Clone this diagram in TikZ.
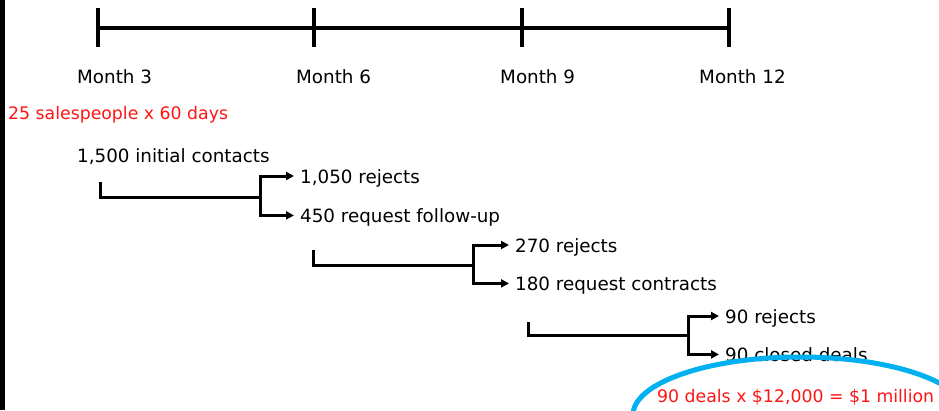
\documentclass[tikz,border=0pt]{standalone}
\usepackage{fontspec}
\setmainfont{DejaVu Sans}
\usetikzlibrary{shapes.geometric,positioning,arrows.meta}
\definecolor{ringblue}{RGB}{0,176,240}
\definecolor{notered}{RGB}{255,20,20}

\begin{document}
\begin{tikzpicture}
            [
            x=1pt, y=-1pt,
            >={Triangle[length=8pt,width=8pt]},
            every node/.style={font=\fontsize{18.3}{22}\selectfont},
            month/.style={anchor=base west, inner sep=0pt},
            item/.style={anchor=base west, inner xsep=6pt, inner ysep=0pt,
                text height=14pt, text depth=0pt},
            note/.style={item, text=notered, font=\fontsize{17.3}{21}\selectfont},
            bar/.style={line width=3.2pt},
            branch/.style={line width=3pt}
            ]

            \useasboundingbox (0,0) rectangle (939,410);
            \clip (0,0) rectangle (939,410);
            \fill (0,0) rectangle (4.5,410);

            % Timeline
            \foreach \m/\x in {3/98, 6/314, 9/522, 12/729}{
                \coordinate (t\m) at (\x,28);
                \draw [bar] (\x,8) -- (\x,47);
            }
            \draw [bar] (t3) -- (t12);

            \node (m3) [month] at (77,83) {Month 3};
            \node (m6) [month] at (296,83) {Month 6};
            \node (m9) [month] at (500,83) {Month 9};
            \node (m12) [month] at (699,83) {Month 12};

            \node (crew) [note] at (2,119) {25 salespeople x 60 days};
            \node (c0) [item] at (71,162) {1,500 initial contacts};

            \node (r1) [item] at (294,183) {1,050 rejects};
            \node (f1) [below right=25pt and 0pt of r1.south west, item, anchor=north west] {450 request follow-up};
            \node (r2) [item] at (509,252) {270 rejects};
            \node (f2) [below right=24pt and 0pt of r2.south west, item, anchor=north west] {180 request contracts};
            \node (r3) [item] at (719,323) {90 rejects};
            \node (f3) [below right=24pt and 0pt of r3.south west, item, anchor=north west] {90 closed deals};

            % Branches
            \coordinate (s1) at (100,182);
            \coordinate (j1) at (260,197);
            \coordinate (s2) at (313,250);
            \coordinate (j2) at (473,265);
            \coordinate (s3) at (528,322);
            \coordinate (j3) at (688,335);

            \foreach \i in {1, 2, 3}{
                \draw [branch] (s\i) |- (j\i);
                \draw [branch, ->] (j\i) |- (r\i.west);
                \draw [branch, ->] (j\i) |- (f\i.west);
            }

            \node (total) [note] at (651,402) {90 deals x \$12,000 = \$1 million};
            \node (ring) [ellipse, draw=ringblue, line width=5pt, minimum width=334pt,
                minimum height=116pt] at (800,415) {};

        \end{tikzpicture}
\end{document}
